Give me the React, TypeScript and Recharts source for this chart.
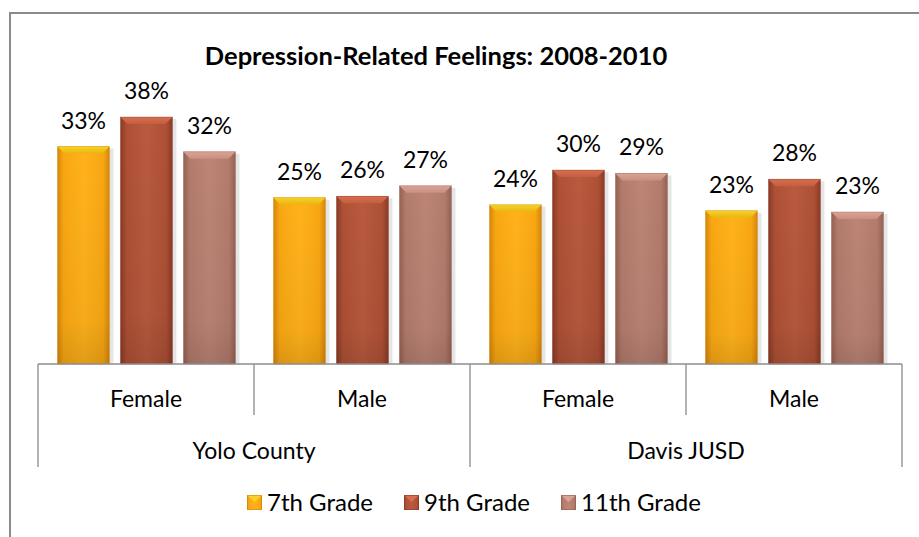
import React from 'react';
import { BarChart, Bar, XAxis, YAxis, Legend, LabelList } from 'recharts';

const genders = ['Female', 'Male', 'Female', 'Male'];
const regions = ['Yolo County', 'Yolo County', 'Davis JUSD', 'Davis JUSD'];
const grade7 = [33.2, 25.4, 24.3, 23.4];
const grade9 = [37.7, 25.6, 29.6, 28.2];
const grade11 = [32.4, 27.2, 29.1, 23.2];
const seriesNames = ['7th Grade', '9th Grade', '11th Grade'];
const title = 'Depression-Related Feelings: 2008-2010';

const data = genders.map((g, i) => ({
  key: `${regions[i]}-${g}`,
  gender: g,
  region: regions[i],
  g7: grade7[i],
  g9: grade9[i],
  g11: grade11[i],
}));

const FONT = 'Lato, "Open Sans", sans-serif';

const palettes = [
  { id: 'g7', edge: '#D6870A', mid: '#F9A712', light: '#FFB21C', top: '#F8D324', topEdge: '#E7B512' },
  { id: 'g9', edge: '#8A3A25', mid: '#AE5035', light: '#B85A3E', top: '#D76E4E', topEdge: '#C45E40' },
  { id: 'g11', edge: '#946152', mid: '#B27B6C', light: '#BC8576', top: '#DCA395', topEdge: '#C99082' },
];

const makeShape = (p: any) => (props: any) => {
  const { x, y, width, height } = props;
  if (!height || height <= 0) return null;
  const b = Math.min(7, height / 2);
  return (
    <g>
      <rect x={x + 2} y={y + 2} width={width + 2} height={height - 2} fill="rgba(0,0,0,0.10)" />
      <rect x={x} y={y} width={width} height={height} fill={`url(#h-${p.id})`} />
      <rect x={x} y={y} width={width} height={height} fill="url(#vshade)" />
      <polygon
        points={`${x},${y} ${x + width},${y} ${x + width - b},${y + b} ${x + b},${y + b}`}
        fill={`url(#t-${p.id})`}
      />
      <rect x={x} y={y} width={width} height={height} fill="none" stroke={p.edge} strokeOpacity={0.5} strokeWidth={0.8} />
    </g>
  );
};

const shapes = palettes.map((p) => makeShape(p));

const LINE = '#9a9a9a';

const GenderTick = (props: any) => {
  const { x, y, index, width } = props;
  const band = (width || 864) / data.length;
  return (
    <g>
      <text x={x} y={y + 34} textAnchor="middle" dominantBaseline="central" fontFamily={FONT} fontSize={23} fill="#000">
        {genders[index]}
      </text>
      {index % 2 === 1 && (
        <line x1={x - band / 2} x2={x - band / 2} y1={y} y2={y + 51} stroke={LINE} strokeWidth={1.5} />
      )}
    </g>
  );
};

const RegionTick = (props: any) => {
  const { x, y, index, width } = props;
  const band = (width || 864) / data.length;
  const label = regions[index];
  return (
    <g>
      {index % 2 === 0 && (
        <>
          <text x={x + band / 2} y={y + 35} textAnchor="middle" dominantBaseline="central" fontFamily={FONT} fontSize={23} fill="#000">
            {label}
          </text>
          <line x1={x - band / 2} x2={x - band / 2} y1={y - 51} y2={y + 52} stroke={LINE} strokeWidth={1.5} />
        </>
      )}
      {index === data.length - 1 && (
        <line x1={x + band / 2} x2={x + band / 2} y1={y - 51} y2={y + 52} stroke={LINE} strokeWidth={1.5} />
      )}
    </g>
  );
};

const LegendMarker = ({ p }: any) => (
  <svg width={15} height={15} style={{ display: 'block' }}>
    <rect x={0} y={0} width={15} height={15} fill={`url(#h-${p.id})`} />
    <polygon points="0,0 15,0 7.5,7" fill={p.top} />
    <rect x={0.5} y={0.5} width={14} height={14} fill="none" stroke={p.edge} strokeOpacity={0.6} />
  </svg>
);

const LegendContent = () => (
  <div style={{ display: 'flex', justifyContent: 'center', alignItems: 'center', height: 70, gap: 31, paddingLeft: 8 }}>
    {seriesNames.map((n, i) => (
      <div key={n} style={{ display: 'flex', alignItems: 'center', gap: 5 }}>
        <LegendMarker p={palettes[i]} />
        <span style={{ fontFamily: FONT, fontSize: 24, color: '#000', lineHeight: '26px' }}>{n}</span>
      </div>
    ))}
  </div>
);

const fmt = (v: any) => `${Math.round(Number(v))}%`;
const labelStyle = { fontFamily: FONT, fontSize: 23, fill: '#000' };

export default function App() {
  return (
    <div style={{ position: 'absolute', left: 0, top: 0, width: 919, height: 537, background: '#fff', overflow: 'hidden' }}>
      <div
        style={{
          position: 'absolute', left: 0, width: 919, top: 39, textAlign: 'center',
          fontFamily: FONT, fontWeight: 700, fontSize: 25.5, color: '#000', lineHeight: '32px', paddingRight: 47, boxSizing: 'border-box',
        }}
      >
        {title}
      </div>
      <div style={{ position: 'absolute', left: 0, top: 0 }}>
        <BarChart
          width={919}
          height={537}
          data={data}
          margin={{ top: 102, right: 17, left: 38, bottom: 0 }}
          barCategoryGap="9%"
          barGap={11}
        >
          <defs>
            {palettes.map((p) => (
              <React.Fragment key={p.id}>
                <linearGradient id={`h-${p.id}`} x1="0" y1="0" x2="1" y2="0">
                  <stop offset="0%" stopColor={p.edge} />
                  <stop offset="12%" stopColor={p.mid} />
                  <stop offset="50%" stopColor={p.light} />
                  <stop offset="88%" stopColor={p.mid} />
                  <stop offset="100%" stopColor={p.edge} />
                </linearGradient>
                <linearGradient id={`t-${p.id}`} x1="0" y1="0" x2="0" y2="1">
                  <stop offset="0%" stopColor={p.top} />
                  <stop offset="100%" stopColor={p.topEdge} />
                </linearGradient>
              </React.Fragment>
            ))}
            <linearGradient id="vshade" x1="0" y1="0" x2="0" y2="1">
              <stop offset="0%" stopColor="#000" stopOpacity={0} />
              <stop offset="80%" stopColor="#000" stopOpacity={0.04} />
              <stop offset="100%" stopColor="#000" stopOpacity={0.12} />
            </linearGradient>
          </defs>
          <path d="M 10 537 L 10 13 L 919 13" fill="none" stroke="#8a8a8a" strokeWidth={2} />
          <XAxis
            xAxisId="g"
            dataKey="key"
            height={51}
            tickSize={0}
            tickMargin={0}
            tickLine={false}
            axisLine={{ stroke: '#8c8c8c', strokeWidth: 1.5 }}
            tick={<GenderTick />}
            interval={0}
          />
          <XAxis
            xAxisId="r"
            dataKey="key"
            height={52}
            tickSize={0}
            tickMargin={0}
            tickLine={false}
            axisLine={false}
            tick={<RegionTick />}
            interval={0}
          />
          <YAxis hide domain={[0, 40]} />
          <Legend verticalAlign="bottom" height={70} content={<LegendContent />} />
          <Bar xAxisId="g" dataKey="g7" name={seriesNames[0]} fill={palettes[0].mid} shape={shapes[0]} isAnimationActive={false}>
            <LabelList dataKey="g7" position="top" offset={18} formatter={fmt} style={labelStyle} />
          </Bar>
          <Bar xAxisId="g" dataKey="g9" name={seriesNames[1]} fill={palettes[1].mid} shape={shapes[1]} isAnimationActive={false}>
            <LabelList dataKey="g9" position="top" offset={18} formatter={fmt} style={labelStyle} />
          </Bar>
          <Bar xAxisId="g" dataKey="g11" name={seriesNames[2]} fill={palettes[2].mid} shape={shapes[2]} isAnimationActive={false}>
            <LabelList dataKey="g11" position="top" offset={18} formatter={fmt} style={labelStyle} />
          </Bar>
        </BarChart>
      </div>
    </div>
  );
}
